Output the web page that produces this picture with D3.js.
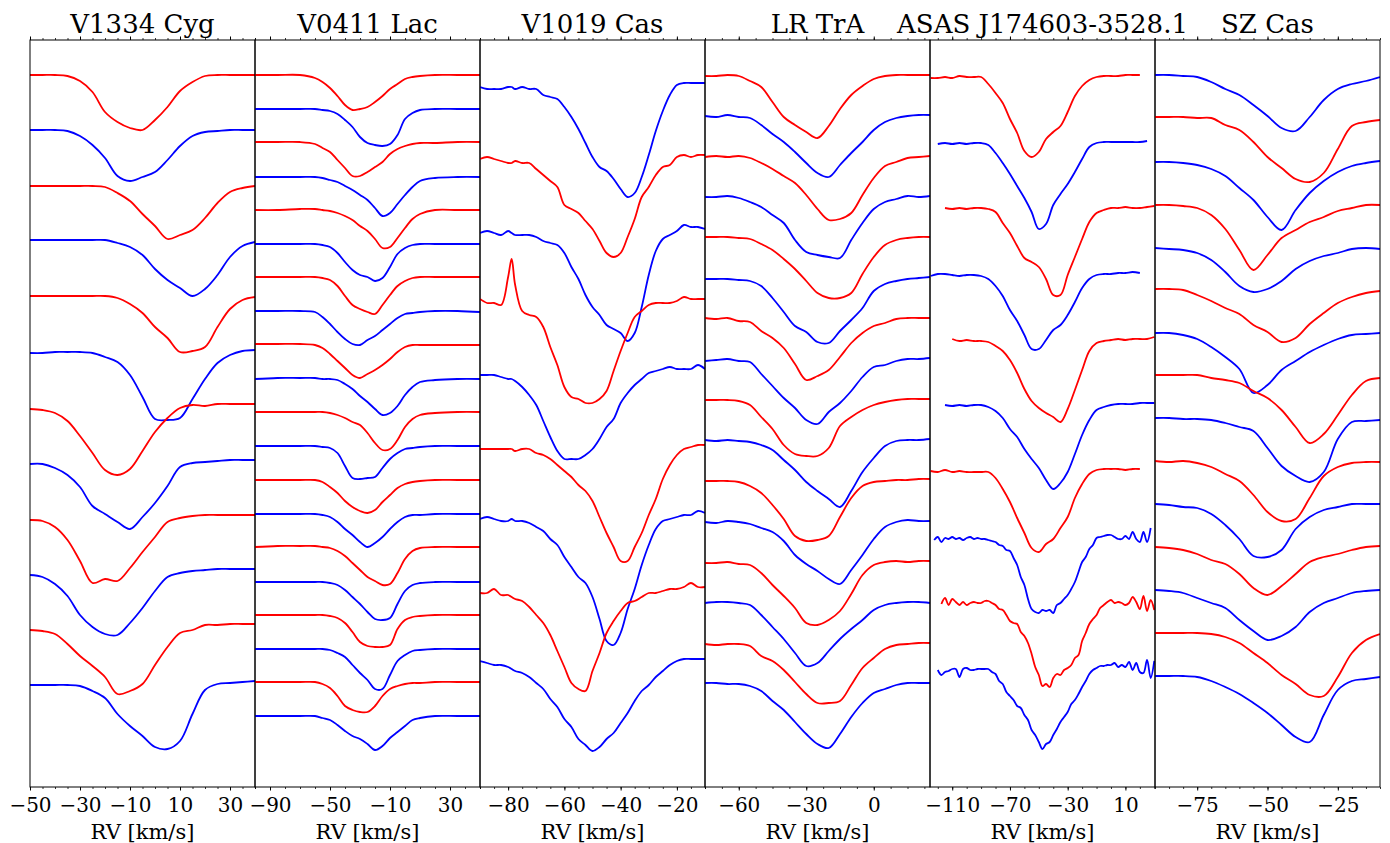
<!DOCTYPE html>
<html lang="en">
<head>
<meta charset="utf-8">
<title>Line profiles</title>
<script src="https://d3js.org/d3.v7.min.js"></script>
<style>
  body { margin: 0; background: #fff; }
  svg text { font-family: "DejaVu Serif", serif; fill: #000; }
  .profile { fill: none; stroke-width: 1.8px; stroke-linejoin: round; }
  .tick line { stroke: #000; }
</style>
</head>
<body>
<div id="chart"></div>
<script>
// ---- data (flux normalised to 1, each profile shifted by its offset) ----
const titles = ["V1334 Cyg", "V0411 Lac", "V1019 Cas", "LR TrA", "ASAS J174603-3528.1", "SZ Cas"];

// V1334 Cyg
const rv1 = [-50,-45,-40,-35,-30,-25,-20,-15,-10,-5,0,5,10,15,20,25,30,35,40];
const off1 = [7.12,6.57,6.01,5.47,4.91,4.34,3.78,3.23,2.67,2.12,1.57,1.02];
const flux1 = [
  [1,1,1,0.99,0.94,0.83,0.63,0.53,0.47,0.45,0.55,0.68,0.84,0.93,0.99,1,1,1,1],
  [1,1,1,0.99,0.94,0.85,0.72,0.54,0.49,0.53,0.58,0.70,0.84,0.94,0.98,0.99,1,1,1],
  [1,1,1,1,1,1,0.99,0.93,0.85,0.72,0.60,0.47,0.51,0.56,0.68,0.83,0.94,0.98,1],
  [1,1,1,1,1,1,1,0.97,0.93,0.85,0.71,0.60,0.52,0.44,0.51,0.65,0.83,0.94,0.98],
  [1,1,1,1,1,1,1,0.98,0.92,0.83,0.69,0.58,0.44,0.45,0.49,0.69,0.87,0.96,0.99],
  [1,1,1.01,1.01,1.01,1,0.96,0.91,0.78,0.56,0.34,0.33,0.35,0.54,0.74,0.90,0.98,1.02,1.03],
  [1,0.99,0.96,0.88,0.73,0.56,0.39,0.34,0.40,0.58,0.77,0.91,1.01,1.04,1.03,1.05,1.05,1.05,1.05],
  [1,1,0.96,0.89,0.77,0.58,0.50,0.42,0.35,0.47,0.61,0.78,0.97,1.01,1.02,1.03,1.04,1.04,1.04],
  [1,0.99,0.93,0.80,0.59,0.37,0.41,0.39,0.52,0.68,0.83,0.98,1.02,1.04,1.05,1.05,1.05,1.05,1.05],
  [1,0.98,0.91,0.79,0.60,0.48,0.41,0.40,0.52,0.67,0.84,0.98,1.02,1.04,1.05,1.06,1.06,1.06,1.06],
  [1,0.99,0.96,0.86,0.74,0.64,0.53,0.36,0.39,0.46,0.65,0.83,0.97,1,1.05,1.05,1.06,1.06,1.06],
  [1,1,1,1,0.99,0.94,0.87,0.71,0.59,0.49,0.38,0.36,0.44,0.71,0.95,1.01,1.02,1.03,1.04]
];

// V0411 Lac
const rv2 = [-100,-85,-70,-60,-55,-50,-45,-40,-35,-30,-25,-20,-15,-10,-5,0,5,10,20,35,50];
const off2 = [7.12,6.78,6.45,6.10,5.77,5.43,5.10,4.76,4.43,4.08,3.75,3.41,3.07,2.73,2.40,2.05,1.72,1.38,1.05,0.71];
const flux2 = [
  [1,1,1,0.97,0.93,0.87,0.79,0.70,0.65,0.66,0.68,0.73,0.79,0.86,0.91,0.96,0.98,0.99,1,1,1],
  [1,1,1,1,0.99,0.98,0.95,0.89,0.82,0.72,0.66,0.64,0.63,0.65,0.74,0.90,0.96,0.99,1,1,1],
  [1,1,1,0.98,0.94,0.90,0.82,0.74,0.66,0.66,0.70,0.75,0.80,0.88,0.93,0.96,0.98,0.99,0.99,1,1],
  [1,1,1,1,0.99,0.97,0.95,0.91,0.87,0.82,0.77,0.69,0.61,0.64,0.73,0.82,0.90,0.96,0.99,1,1],
  [1,1,1.01,1.01,1,0.99,0.97,0.94,0.90,0.84,0.79,0.71,0.62,0.63,0.72,0.82,0.91,0.96,1,1,1],
  [1,1,1,1,0.99,0.97,0.91,0.82,0.74,0.69,0.67,0.63,0.66,0.77,0.90,0.96,0.99,1,1,1,1],
  [1,1,1,1,0.99,0.97,0.91,0.81,0.72,0.68,0.65,0.63,0.72,0.82,0.91,0.96,0.99,1,1,1,1],
  [1,1,1,0.99,0.94,0.87,0.79,0.72,0.67,0.66,0.71,0.75,0.81,0.87,0.93,0.97,0.98,0.99,1,1,0.99],
  [1,1,1,0.99,0.96,0.90,0.83,0.76,0.69,0.66,0.70,0.74,0.79,0.85,0.92,0.97,0.99,0.99,0.99,0.99,0.99],
  [1,1.01,1.01,1.01,1,1,0.99,0.95,0.90,0.83,0.77,0.70,0.64,0.66,0.73,0.84,0.92,0.97,0.99,1,1],
  [1,1,1,1,1,0.99,0.97,0.94,0.90,0.87,0.79,0.69,0.62,0.63,0.72,0.85,0.93,0.97,0.99,1,1],
  [1,1,1,1,0.99,0.98,0.93,0.80,0.68,0.67,0.68,0.69,0.78,0.87,0.93,0.97,0.98,0.99,1,1,1],
  [1,1,1,1,0.98,0.93,0.87,0.79,0.73,0.69,0.67,0.70,0.78,0.85,0.92,0.96,0.98,0.99,1,1,1],
  [1,1,1,1,0.99,0.97,0.92,0.85,0.79,0.72,0.67,0.71,0.77,0.85,0.92,0.97,0.99,0.99,1,1,1],
  [1,1.01,1.01,1.01,1,0.99,0.96,0.91,0.84,0.77,0.70,0.66,0.62,0.63,0.74,0.88,0.96,0.99,1,1,1],
  [1,1,1,1,1,0.99,0.97,0.92,0.85,0.78,0.70,0.63,0.62,0.64,0.78,0.91,0.97,0.99,1,1,1],
  [1,1,1,1,1,0.99,0.97,0.92,0.83,0.73,0.69,0.68,0.68,0.70,0.86,0.95,0.98,0.99,1,1,1],
  [1,1,1,1,1,0.99,0.96,0.92,0.84,0.76,0.69,0.60,0.60,0.74,0.88,0.94,0.98,0.99,1,1,1],
  [1,1,1,1,0.98,0.94,0.86,0.76,0.72,0.70,0.70,0.76,0.86,0.93,0.96,0.98,0.99,0.99,1,1,1],
  [1,1,1,1,0.98,0.96,0.91,0.85,0.80,0.77,0.72,0.66,0.70,0.78,0.84,0.90,0.96,0.98,1,1,1]
];

// V1019 Cas
const rv3 = [-90,-87.5,-85,-82.5,-80,-78.75,-77.5,-75,-72.5,-70,-67.5,-65,-62.5,-60,-57.5,-55,-52.5,-50,
             -47.5,-45,-42.5,-40,-37.5,-35,-32.5,-30,-27.5,-25,-22.5,-20,-17.5,-15,-12.5,-10];
const off3 = [3.50,3.14,2.77,2.43,2.06,1.69,1.34,0.97,0.63];
const flux3 = [
  [1,0.99,0.99,0.99,1,1,0.99,1,0.99,0.99,0.96,0.95,0.94,0.90,0.85,0.79,0.72,0.65,0.60,0.58,0.54,0.49,0.45,0.47,0.55,0.66,0.78,0.88,0.96,1.01,1.02,1.02,1.02,1.02],
  [1,1.01,1,0.99,0.98,0.98,0.99,0.98,0.98,0.95,0.92,0.89,0.86,0.77,0.75,0.73,0.69,0.65,0.59,0.53,0.51,0.53,0.61,0.70,0.81,0.86,0.92,0.96,0.97,1.01,1.02,1.01,1.02,1.02],
  [1,1.01,1,0.99,1.01,1,0.99,0.99,0.99,0.98,0.96,0.95,0.94,0.90,0.83,0.77,0.69,0.63,0.59,0.54,0.52,0.50,0.46,0.50,0.63,0.79,0.91,0.97,0.99,1.01,1.04,1.03,1.03,1.02],
  [1.01,0.99,0.99,0.98,1.12,1.21,1.08,0.95,0.93,0.92,0.87,0.77,0.68,0.57,0.52,0.51,0.49,0.49,0.51,0.55,0.65,0.75,0.84,0.92,0.95,0.98,0.99,0.99,0.99,1,1.02,1.01,1.01,1.01],
  [1,1,1,0.99,0.98,0.98,0.97,0.94,0.90,0.85,0.77,0.69,0.62,0.58,0.58,0.58,0.60,0.63,0.68,0.74,0.78,0.86,0.91,0.95,0.98,1.01,1.02,1.03,1.04,1.03,1.03,1.03,1.05,1.03],
  [1,1,1,1,1,1,0.99,1,1,0.98,0.97,0.95,0.92,0.89,0.86,0.82,0.79,0.74,0.66,0.58,0.51,0.44,0.44,0.51,0.58,0.67,0.75,0.85,0.92,0.97,1,1.01,1.02,1.02],
  [1,1.01,1,0.99,0.99,1,0.99,0.99,0.98,0.96,0.94,0.90,0.87,0.81,0.76,0.71,0.68,0.61,0.50,0.39,0.37,0.43,0.55,0.65,0.77,0.87,0.95,0.99,1,1.01,1.02,1.02,1.04,1.03],
  [1,1,1.02,0.99,0.99,0.98,0.97,0.96,0.93,0.89,0.85,0.79,0.71,0.63,0.55,0.52,0.51,0.61,0.70,0.80,0.86,0.91,0.95,0.96,0.98,1,1,1.01,1.02,1.02,1.03,1.05,1.03,1.03],
  [1,0.99,0.98,0.98,0.97,0.96,0.95,0.94,0.92,0.89,0.86,0.81,0.77,0.71,0.67,0.61,0.58,0.55,0.57,0.61,0.64,0.69,0.74,0.80,0.85,0.88,0.92,0.95,0.98,1,1.01,1.01,1.01,1.01]
];

// LR TrA
const rv4 = [-75,-70,-65,-60,-55,-50,-45,-40,-35,-30,-25,-20,-15,-10,-5,0,5,10,15,20,25];
const off4 = [7.11,6.71,6.30,5.90,5.50,5.08,4.69,4.26,3.87,3.47,3.06,2.65,2.24,1.84,1.43,1.04];
const flux4 = [
  [1,1,1.01,1,0.95,0.89,0.74,0.59,0.51,0.44,0.38,0.50,0.67,0.81,0.90,0.97,1,1.01,1.01,1.01,1.01],
  [1,0.99,1.01,0.99,0.98,0.91,0.82,0.74,0.64,0.53,0.43,0.39,0.51,0.63,0.74,0.86,0.94,0.98,1,1.01,1.01],
  [1,1.01,1,1.01,0.99,0.94,0.88,0.81,0.74,0.62,0.48,0.37,0.38,0.44,0.62,0.79,0.91,0.95,0.99,1,1.01],
  [1,1,1.01,0.99,0.95,0.90,0.82,0.74,0.57,0.45,0.42,0.40,0.39,0.57,0.74,0.88,0.95,0.98,1.01,1,1.01],
  [1,1,1,0.99,0.98,0.93,0.87,0.78,0.68,0.56,0.44,0.39,0.39,0.44,0.63,0.80,0.92,0.97,0.99,1,1],
  [1,1,1,0.99,0.98,0.93,0.81,0.67,0.53,0.47,0.37,0.36,0.48,0.59,0.71,0.88,0.95,0.98,1,1.01,1.02],
  [1,0.99,1,0.97,0.96,0.87,0.80,0.70,0.54,0.38,0.42,0.48,0.61,0.75,0.85,0.92,0.95,0.99,1,1,1],
  [1,1.01,1.02,1,0.99,0.87,0.75,0.63,0.53,0.41,0.37,0.49,0.58,0.70,0.84,0.94,0.96,1,1.02,1.02,1.03],
  [1,1,1,0.99,0.95,0.83,0.71,0.55,0.46,0.44,0.44,0.52,0.74,0.83,0.90,0.95,0.98,1,1.01,1.01,1.01],
  [1,0.99,1,0.99,0.98,0.95,0.90,0.80,0.70,0.58,0.49,0.41,0.33,0.49,0.68,0.82,0.94,0.99,1,1,1.01],
  [1,1,1,0.99,0.95,0.88,0.76,0.62,0.45,0.40,0.41,0.45,0.64,0.83,0.95,0.99,1,1.01,1.01,1.02,1.02],
  [1,0.99,1.01,1,0.98,0.94,0.90,0.81,0.67,0.58,0.51,0.43,0.38,0.52,0.67,0.83,0.95,1,1.02,1.01,1.01],
  [1,1,1.01,0.99,0.98,0.90,0.78,0.67,0.55,0.40,0.38,0.43,0.52,0.69,0.88,0.98,1.01,1.02,1.01,1.02,1.02],
  [1,1.01,1.01,1,0.98,0.88,0.76,0.64,0.50,0.37,0.40,0.52,0.64,0.74,0.83,0.93,0.98,1,1.01,1.01,1],
  [1,0.99,1,1,0.98,0.88,0.83,0.74,0.62,0.50,0.41,0.41,0.43,0.59,0.76,0.86,0.95,0.99,1,1.01,1.01],
  [1,1,0.99,0.99,0.97,0.92,0.82,0.73,0.61,0.49,0.39,0.35,0.49,0.66,0.80,0.90,0.94,0.98,1,1,1]
];

// ASAS J174603-3528.1 (null = outside the observed range)
const rv5 = [-125,-120,-115,-110,-105,-100,-95,-90,-85,-80,-75,-70,-65,-60,-55,-50,
             -45,-40,-35,-30,-25,-20,-15,-10,-5,0,5,10,15,20,25,30];
// finer sampling for the three noisiest spectra
const rv5f = [-125,-122.5,-120,-117.5,-115,-112.5,-110,-107.5,-105,-102.5,-100,-97.5,-95,-92.5,-90,-87.5,
              -85,-82.5,-80,-77.5,-75,-72.5,-70,-67.5,-65,-62.5,-60,-57.5,-55,-52.5,-50,-47.5,
              -45,-42.5,-40,-37.5,-35,-32.5,-30,-27.5,-25,-22.5,-20,-17.5,-15,-12.5,-10,-7.5,
              -5,-2.5,0,2.5,5,7.5,10,12.5,15,17.5,20,22.5,25,27.5,30];
const off5 = [7.11,6.44,5.79,5.13,4.46,3.81,3.16,2.49,1.85,1.18];
const flux5 = [
  [0.98,0.98,0.99,0.98,1,0.99,0.99,0.99,0.92,0.83,0.73,0.57,0.43,0.25,0.19,0.24,0.37,0.44,0.50,0.64,0.80,0.90,0.96,0.99,1,1,1,1.01,1.01,1.01,null,null],
  [null,0.99,1,0.99,1,0.99,1,1,0.98,0.90,0.80,0.69,0.57,0.45,0.31,0.14,0.19,0.38,0.49,0.59,0.71,0.84,0.96,1,1.01,1.01,1.01,1.01,1.01,1.01,1.02,null],
  [null,null,1,0.99,1,0.99,1,1,0.99,0.96,0.85,0.75,0.62,0.50,0.46,0.41,0.29,0.13,0.13,0.33,0.51,0.69,0.86,0.95,0.98,1,1,1.01,1,1,1.01,1.02],
  [0.98,1,1,0.99,0.98,0.99,0.99,0.98,0.95,0.88,0.78,0.64,0.53,0.39,0.25,0.25,0.34,0.44,0.49,0.59,0.72,0.86,0.95,0.99,1,1,1.01,1.01,1.02,1.01,null,null],
  [null,null,null,1.02,1,1.01,1,1,0.99,0.95,0.90,0.81,0.68,0.52,0.40,0.33,0.28,0.24,0.19,0.32,0.51,0.71,0.90,0.98,1,1.01,1.02,1.01,1.02,1.02,1.02,1.04],
  [null,null,1.01,1,1.01,1,1.01,1.01,0.99,0.95,0.88,0.77,0.69,0.57,0.47,0.38,0.26,0.17,0.23,0.34,0.52,0.71,0.86,0.96,0.99,1.01,1.02,1.02,1.02,1.03,1.03,1.03],
  [1,0.99,1.01,0.99,1,0.99,0.99,0.99,0.99,0.93,0.82,0.69,0.53,0.38,0.23,0.19,0.27,0.32,0.43,0.54,0.73,0.87,0.97,1.01,1.02,1.02,1.02,1.01,1.02,1.02,null,null],
  [null,0.98,1.01,0.96,1,0.99,1.01,0.99,1,0.98,1,1.01,0.99,1,0.99,0.99,0.98,0.97,0.96,0.93,0.92,0.88,0.87,0.80,0.73,0.61,0.53,0.39,0.29,0.26,0.25,0.28,
   0.27,0.28,0.25,0.33,0.35,0.39,0.43,0.49,0.56,0.66,0.76,0.81,0.89,0.93,1,1.01,1.02,1.03,1.03,1.01,0.99,0.99,1.02,0.99,1.06,0.99,0.96,1.06,0.96,1.10,null],
  [null,null,null,0.98,1.04,0.97,1.03,1,0.97,1,0.97,0.99,1,0.99,0.99,1.01,1.01,0.99,0.97,0.93,0.92,0.87,0.81,0.79,0.78,0.70,0.66,0.59,0.48,0.35,0.27,0.16,
   0.18,0.15,0.24,0.28,0.27,0.32,0.34,0.37,0.44,0.47,0.61,0.69,0.78,0.83,0.87,0.94,0.97,1,1.02,0.99,1,0.99,0.97,0.99,1.05,1,0.93,1.06,0.91,1.02,0.92],
  [null,null,0.99,0.94,0.97,0.98,1,1,0.92,1,1.01,0.99,0.99,1,1,1,1,0.97,0.95,0.88,0.85,0.77,0.73,0.69,0.63,0.61,0.54,0.49,0.39,0.34,0.27,0.20,
   0.25,0.27,0.34,0.40,0.47,0.52,0.57,0.65,0.69,0.75,0.82,0.88,0.95,0.99,1.01,1.03,1.03,1.04,1.04,1.06,1.02,1.04,1.02,1.07,0.99,1.06,0.97,0.96,1.09,0.91,1.08]
];
const grid5 = [rv5, rv5, rv5, rv5, rv5, rv5, rv5, rv5f, rv5f, rv5f];

// SZ Cas
const rv6 = [-90,-85,-80,-75,-70,-65,-60,-55,-50,-45,-40,-35,-30,-25,-20,-15,-10];
const off6 = [7.12,6.70,6.25,5.82,5.39,4.98,4.54,4.12,3.69,3.26,2.83,2.40,1.97,1.54,1.11];
const flux6 = [
  [1,1,0.99,0.98,0.93,0.86,0.80,0.70,0.59,0.47,0.44,0.58,0.75,0.86,0.91,0.94,0.98],
  [1,1,1,0.99,0.99,0.92,0.87,0.75,0.60,0.49,0.38,0.35,0.44,0.68,0.91,0.95,0.97],
  [1,1,0.99,0.97,0.93,0.86,0.74,0.62,0.45,0.32,0.52,0.69,0.81,0.90,0.96,0.99,1.01],
  [1,1,0.99,0.97,0.90,0.76,0.55,0.35,0.50,0.67,0.75,0.83,0.88,0.94,0.97,1,1],
  [1,0.99,0.98,0.95,0.88,0.76,0.62,0.56,0.59,0.67,0.79,0.87,0.92,0.95,0.99,1,0.99],
  [1,1,0.99,0.94,0.88,0.81,0.75,0.64,0.57,0.47,0.51,0.65,0.76,0.86,0.92,0.96,0.98],
  [1,1,0.98,0.94,0.86,0.76,0.64,0.40,0.48,0.63,0.72,0.81,0.88,0.94,0.98,0.99,1],
  [1,1,1,1,0.97,0.95,0.92,0.84,0.77,0.65,0.48,0.32,0.41,0.60,0.80,0.94,0.97],
  [1,1,0.99,0.99,0.98,0.95,0.91,0.87,0.70,0.52,0.42,0.36,0.46,0.79,0.96,0.97,0.98],
  [1,0.99,1,0.98,0.94,0.87,0.80,0.66,0.49,0.40,0.42,0.63,0.85,0.94,0.98,0.99,0.99],
  [1,0.99,0.97,0.96,0.90,0.79,0.65,0.48,0.47,0.54,0.75,0.87,0.94,0.97,1,1,1],
  [1,0.99,0.97,0.93,0.87,0.83,0.73,0.59,0.52,0.61,0.73,0.85,0.90,0.93,0.97,1,1.01],
  [1,0.99,0.97,0.92,0.87,0.82,0.70,0.59,0.50,0.54,0.63,0.78,0.87,0.92,0.97,0.99,1],
  [1,1,1,1,0.99,0.96,0.90,0.80,0.70,0.58,0.49,0.38,0.37,0.56,0.80,0.93,0.99],
  [1,1,1,0.99,0.95,0.89,0.82,0.73,0.63,0.51,0.39,0.34,0.61,0.86,0.95,0.97,0.99]
];

// tick labels on each panel's RV axis
const ticks1 = [-50,-30,-10,10,30];
const ticks2 = [-90,-50,-10,30];
const ticks3 = [-80,-60,-40,-20];
const ticks4 = [-60,-30,0];
const ticks5 = [-110,-70,-30,10];
const ticks6 = [-75,-50,-25];

const panels = [
  {title: titles[0], domain: [-50, 40],      ticks: ticks1, minor: [-50, 5],   rv: rv1,   off: off1, flux: flux1, yMax: 7.47,  first: "red"},
  {title: titles[1], domain: [-100, 50],     ticks: ticks2, minor: [-100, 10], rv: rv2,   off: off2, flux: flux2, yMax: 7.47,  first: "red"},
  {title: titles[2], domain: [-90, -10],     ticks: ticks3, minor: [-90, 5],   rv: rv3,   off: off3, flux: flux3, yMax: 3.735, first: "blue"},
  {title: titles[3], domain: [-75, 25],      ticks: ticks4, minor: [-75, 7.5], rv: rv4,   off: off4, flux: flux4, yMax: 7.47,  first: "red"},
  {title: titles[4], domain: [-125.4, 30.5], ticks: ticks5, minor: [-120, 10], rv: grid5, off: off5, flux: flux5, yMax: 7.47,  first: "red"},
  {title: titles[5], domain: [-90, -10],     ticks: ticks6, minor: [-90, 5],   rv: rv6,   off: off6, flux: flux6, yMax: 7.47,  first: "blue"}
];

// ---- layout ----
const W = 1390, H = 843;
const plotTop = 40, plotBottom = 787, plotLeft = 30, panelW = 225;

const svg = d3.select("#chart").append("svg")
    .attr("width", W)
    .attr("height", H);

const fmt = v => (v < 0 ? "\u2212" : "") + Math.abs(v);

panels.forEach((p, i) => {
    const x0 = plotLeft + i * panelW;
    const x = d3.scaleLinear().domain(p.domain).range([x0, x0 + panelW]);
    const y = d3.scaleLinear().domain([0, p.yMax]).range([plotBottom, plotTop]);
    const g = svg.append("g");

    g.append("clipPath").attr("id", "clip" + i)
      .append("rect")
        .attr("x", x0).attr("y", plotTop)
        .attr("width", panelW).attr("height", plotBottom - plotTop);

    const line = d3.line()
        .defined(d => d[1] != null)
        .x(d => x(d[0]))
        .y(d => y(d[1]))
        .curve(d3.curveCatmullRom.alpha(0.5));

    const other = p.first === "red" ? "blue" : "red";
    const lines = g.append("g").attr("clip-path", `url(#clip${i})`);
    p.flux.forEach((f, j) => {
        const grid = Array.isArray(p.rv[0]) ? p.rv[j] : p.rv;
        const pts = grid.map((v, k) => [v, f[k] == null ? null : p.off[j] + f[k] - 1]);
        lines.append("path")
            .datum(pts)
            .attr("class", "profile")
            .attr("stroke", j % 2 === 0 ? p.first : other)
            .attr("d", line);
    });

    // minor ticks, top and bottom
    const minorVals = d3.range(p.minor[0], p.domain[1] + 1e-6, p.minor[1]);
    g.append("g").attr("transform", `translate(0,${plotBottom})`)
        .call(d3.axisBottom(x).tickValues(minorVals).tickSize(2).tickFormat(""))
        .call(a => a.select(".domain").remove())
        .selectAll("line").attr("stroke-width", 0.8);
    g.append("g").attr("transform", `translate(0,${plotTop})`)
        .call(d3.axisTop(x).tickValues(minorVals).tickSize(2).tickFormat(""))
        .call(a => a.select(".domain").remove())
        .selectAll("line").attr("stroke-width", 0.8);

    // major ticks
    g.append("g").attr("transform", `translate(0,${plotBottom})`)
        .call(d3.axisBottom(x).tickValues(p.ticks).tickSize(3.5).tickPadding(7).tickFormat(fmt))
        .call(a => a.select(".domain").remove())
        .call(a => a.selectAll("text").attr("font-size", 20).attr("font-family", "DejaVu Serif"))
        .selectAll("line").attr("stroke-width", 1);
    g.append("g").attr("transform", `translate(0,${plotTop})`)
        .call(d3.axisTop(x).tickValues(p.ticks).tickSize(3.5).tickFormat(""))
        .call(a => a.select(".domain").remove())
        .selectAll("line").attr("stroke-width", 1);

    // frame
    g.append("rect")
        .attr("x", x0).attr("y", plotTop)
        .attr("width", panelW).attr("height", plotBottom - plotTop)
        .attr("fill", "none").attr("stroke", "#000").attr("stroke-width", 1);

    g.append("text")
        .attr("x", x0 + panelW / 2).attr("y", 33)
        .attr("text-anchor", "middle")
        .attr("font-size", 26)
        .text(p.title);

    g.append("text")
        .attr("x", x0 + panelW / 2).attr("y", 839)
        .attr("text-anchor", "middle")
        .attr("font-size", 21)
        .text("RV [km/s]");
});
</script>
</body>
</html>
